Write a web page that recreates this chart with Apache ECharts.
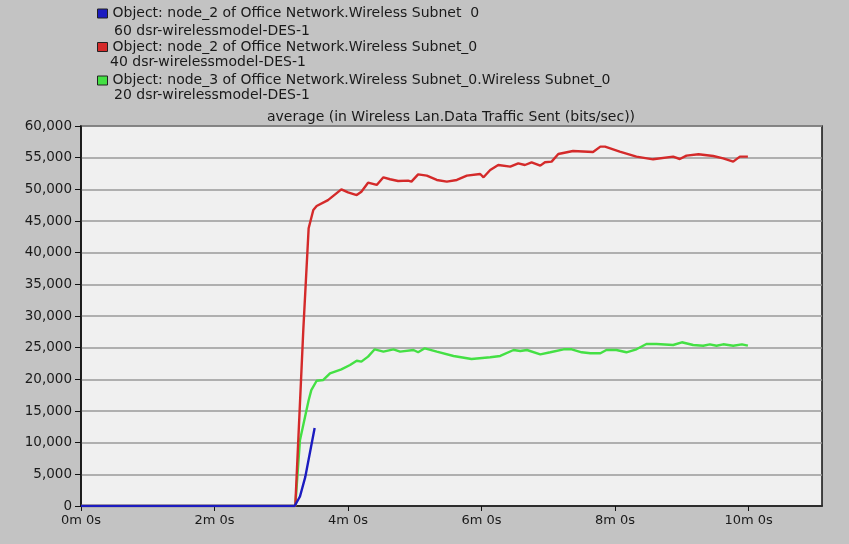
<!DOCTYPE html>
<html>
<head>
<meta charset="utf-8">
<script src="https://cdn.jsdelivr.net/npm/echarts@6/dist/echarts.min.js"></script>
<style>
html, body { margin: 0; padding: 0; background: #c3c3c3; }
#main { width: 849px; height: 544px; }
</style>
</head>
<body>
<div id="main"></div>
<script>
// time in minutes, values in bits/sec
var blueTime = [0, 3.20, 3.28, 3.36, 3.50];
var blueVal = [0, 0, 1500, 4600, 12300];

var redTime = [0, 3.21, 3.33, 3.41, 3.48, 3.53, 3.70, 3.90, 4.00, 4.13, 4.20, 4.30, 4.43, 4.53, 4.63, 4.75, 4.90, 4.95,
  5.05, 5.18, 5.33, 5.48, 5.63, 5.78, 5.98, 6.03, 6.13, 6.25, 6.43, 6.55, 6.65, 6.75, 6.88, 6.95, 7.05, 7.15, 7.37,
  7.67, 7.78, 7.85, 8.07, 8.32, 8.57, 8.87, 8.97, 9.07, 9.25, 9.47, 9.62, 9.77, 9.87, 9.99];
var redVal = [0, 0, 27800, 43850, 46740, 47370, 48300, 50000, 49530, 49100, 49630, 51050, 50690, 51900, 51590, 51320, 51370, 51210,
  52370, 52160, 51480, 51210, 51480, 52160, 52420, 51900, 53050, 53840, 53580, 54110, 53840, 54270, 53740, 54270, 54370, 55580, 56050,
  55900, 56740, 56740, 55950, 55160, 54740, 55160, 54790, 55320, 55530, 55260, 54900, 54370, 55160, 55160];

var greenTime = [0, 3.21, 3.28, 3.41, 3.45, 3.53, 3.63, 3.73, 3.90, 4.03, 4.13, 4.20, 4.30, 4.40, 4.53, 4.68, 4.78, 4.98,
  5.05, 5.15, 5.33, 5.58, 5.85, 6.13, 6.28, 6.48, 6.58, 6.68, 6.88, 7.03, 7.23, 7.35, 7.50, 7.63, 7.78, 7.87, 8.02, 8.17,
  8.32, 8.47, 8.62, 8.87, 9.00, 9.17, 9.32, 9.42, 9.52, 9.62, 9.77, 9.90, 9.99];
var greenVal = [0, 0, 10400, 16700, 18300, 19780, 19900, 20950, 21580, 22260, 22940, 22790, 23580, 24740, 24370, 24740, 24370, 24630,
  24270, 24900, 24370, 23690, 23210, 23480, 23690, 24630, 24470, 24630, 23950, 24270, 24740, 24740, 24270, 24110, 24110, 24630, 24630, 24270,
  24740, 25580, 25580, 25420, 25850, 25420, 25310, 25530, 25310, 25530, 25310, 25530, 25310];

var seriesNames = [
  'Object: node_2 of Office Network.Wireless Subnet  0\n60 dsr-wirelessmodel-DES-1',
  'Object: node_2 of Office Network.Wireless Subnet_0\n40 dsr-wirelessmodel-DES-1',
  'Object: node_3 of Office Network.Wireless Subnet_0.Wireless Subnet_0\n20 dsr-wirelessmodel-DES-1'
];
var seriesColors = ['#1c1cc0', '#d42a2a', '#44e044'];
var chartTitle = 'average (in Wireless Lan.Data Traffic Sent (bits/sec))';

function pairs(xs, ys) {
  var out = [];
  for (var i = 0; i < xs.length; i++) out.push([xs[i], ys[i]]);
  return out;
}

var font = 'DejaVu Sans, Verdana, sans-serif';
var txt = '#1a1a1a';
var chart = echarts.init(document.getElementById('main'), null, { renderer: 'canvas' });

// second line of each legend entry (legend shows the first line)
var extras = [];
var subX = [114, 110, 114];
var subY = [31, 62, 95];
for (var i = 0; i < 3; i++) {
  extras.push({
    type: 'text', x: subX[i], y: subY[i],
    style: { text: seriesNames[i].split('\n')[1], font: '14px ' + font, fill: txt, textVerticalAlign: 'middle' }
  });
}
extras.push({
  type: 'text', x: 451, y: 117,
  style: { text: chartTitle, font: '14px ' + font, fill: txt, textAlign: 'center', textVerticalAlign: 'middle' }
});

chart.setOption({
  backgroundColor: '#c3c3c3',
  animation: false,
  graphic: extras,
  legend: {
    orient: 'vertical',
    left: 97,
    top: 6,
    padding: 0,
    itemWidth: 10,
    itemHeight: 9,
    itemGap: 18.5,
    icon: 'rect',
    selectedMode: false,
    data: seriesNames.slice(),
    formatter: function (name) { return name.split('\n')[0]; },
    itemStyle: { borderColor: '#222', borderWidth: 1 },
    textStyle: { fontFamily: font, fontSize: 14, color: txt, lineHeight: 15 }
  },
  grid: {
    left: 81, right: 27, top: 126, bottom: 38,
    show: true,
    backgroundColor: '#f0f0f0',
    borderColor: '#111',
    borderWidth: 1.5
  },
  xAxis: {
    type: 'value',
    min: 0,
    max: 11.1,
    interval: 2,
    axisLine: { lineStyle: { color: '#111', width: 1.5 } },
    axisTick: { show: true, length: 5, lineStyle: { color: '#111' } },
    axisLabel: {
      fontFamily: font, fontSize: 13, color: txt, margin: 8,
      showMaxLabel: false,
      formatter: function (v) { return v + 'm 0s'; }
    },
    splitLine: { show: false }
  },
  yAxis: {
    type: 'value',
    min: 0,
    max: 60000,
    interval: 5000,
    axisLine: { show: true, lineStyle: { color: '#111', width: 1.5 } },
    axisTick: { show: true, length: 6, lineStyle: { color: '#111' } },
    axisLabel: {
      fontFamily: font, fontSize: 13.5, color: txt, margin: 9,
      formatter: function (v) { return v.toLocaleString('en-US'); }
    },
    splitLine: { show: true, lineStyle: { color: '#9a9a9a', width: 1.5 } }
  },
  series: [
    {
      name: seriesNames[2], type: 'line', showSymbol: false, z: 2,
      color: seriesColors[2], lineStyle: { width: 2.4 },
      data: pairs(greenTime, greenVal)
    },
    {
      name: seriesNames[1], type: 'line', showSymbol: false, z: 3,
      color: seriesColors[1], lineStyle: { width: 2.4 },
      data: pairs(redTime, redVal)
    },
    {
      name: seriesNames[0], type: 'line', showSymbol: false, z: 4,
      color: seriesColors[0], lineStyle: { width: 2.4 },
      data: pairs(blueTime, blueVal)
    }
  ]
});
</script>
</body>
</html>
